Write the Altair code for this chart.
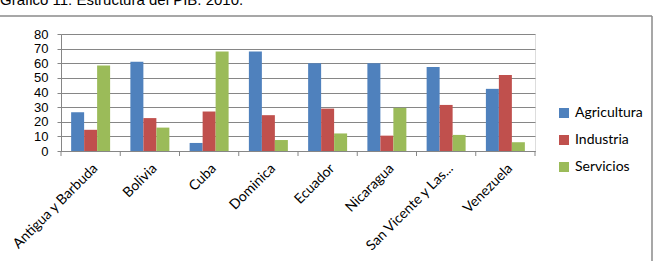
import altair as alt
import pandas as pd

countries = ["Antigua y Barbuda", "Bolivia", "Cuba", "Dominica", "Ecuador",
             "Nicaragua", "San Vicente y Las...", "Venezuela"]
series = ["Agricultura", "Industria", "Servicios"]
agricultura = [26.5, 61.0, 5.5, 68.0, 60.0, 60.0, 57.5, 42.5]
industria = [14.5, 22.5, 27.0, 24.5, 29.0, 10.5, 31.5, 52.0]
servicios = [58.5, 16.0, 68.0, 7.5, 12.0, 29.5, 11.0, 6.0]
colors = ["#4F81BD", "#C0504D", "#9BBB59"]
title_text = "Gráfico 11: Estructura del PIB. 2010."

rows = []
for i, c in enumerate(countries):
    for s, vals in zip(series, [agricultura, industria, servicios]):
        rows.append({"pais": c, "sector": s, "valor": vals[i]})
df = pd.DataFrame(rows)

W, H = 474, 117
PL, PT = 61, 34
TOTAL_W, TOTAL_H = 657, 261

xscale = alt.Scale(domain=countries, paddingInner=0, paddingOuter=0)

bars = alt.Chart(df).mark_bar().encode(
    x=alt.X("pais:N", scale=xscale, sort=countries, title=None,
            axis=alt.Axis(labelAngle=-45, ticks=False, domain=True,
                          domainColor="#868686", labelFont="Lato",
                          labelFontSize=14, labelColor="#000000",
                          labelPadding=10, labelLimit=300)),
    xOffset=alt.XOffset("sector:N", sort=series,
                        scale=alt.Scale(paddingInner=0, paddingOuter=0.78)),
    y=alt.Y("valor:Q", scale=alt.Scale(domain=[0, 80]), title=None,
            axis=alt.Axis(values=list(range(0, 81, 10)), tickSize=4,
                          tickColor="#868686", domainColor="#868686",
                          gridColor="#868686", labelFont="Liberation Sans",
                          labelFontSize=13, labelColor="#000000",
                          labelPadding=9)),
    color=alt.Color("sector:N", sort=series,
                    scale=alt.Scale(domain=series, range=colors),
                    legend=alt.Legend(title=None, orient="none", legendX=496,
                                      legendY=72, symbolType="square",
                                      symbolSize=100, symbolStrokeWidth=0,
                                      labelFont="Lato", labelFontSize=14,
                                      labelColor="#000000", rowPadding=13,
                                      labelOffset=4)),
)

tick_df = pd.DataFrame({"pais": countries})
ticks = alt.Chart(tick_df).mark_rule(color="#868686").encode(
    x=alt.X("pais:N", sort=countries, bandPosition=0),
    y=alt.value(H), y2=alt.value(H + 5),
)

one = pd.DataFrame({"k": [0]})
end_tick = alt.Chart(one).mark_rule(color="#868686").encode(
    x=alt.value(W), y=alt.value(H), y2=alt.value(H + 5))

top_border = alt.Chart(one).mark_rule(color="#8a8a8a", strokeWidth=1.5).encode(
    x=alt.value(-PL), x2=alt.value(652 - PL), y=alt.value(16 - PT))
right_border = alt.Chart(one).mark_rule(color="#8a8a8a", strokeWidth=1.5).encode(
    x=alt.value(652 - PL), y=alt.value(16 - PT), y2=alt.value(TOTAL_H - PT + 5))

title = alt.Chart(one).mark_text(align="left", baseline="alphabetic",
                                 font="Liberation Sans", fontSize=15,
                                 color="#000000").encode(
    x=alt.value(-PL), y=alt.value(5 - PT), text=alt.value(title_text))

chart = alt.layer(bars, ticks, end_tick, top_border, right_border, title).properties(
    width=W, height=H,
    autosize=alt.AutoSizeParams(type="none"),
    padding={"left": PL, "top": PT, "right": TOTAL_W - PL - W, "bottom": TOTAL_H - PT - H},
).configure_view(stroke=None).configure(background="#ffffff")

chart.save("out.html", embed_options={"renderer": "svg", "actions": False})
